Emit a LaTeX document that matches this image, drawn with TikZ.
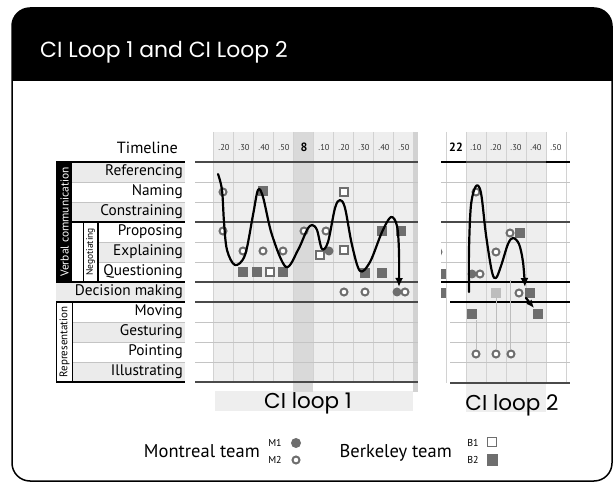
\documentclass[tikz,border=0pt]{standalone}
\usepackage{fontspec}
\setmainfont{PT Sans}
\newfontfamily\titlefont{Poppins}
\usetikzlibrary{arrows.meta}
\definecolor{cellgray}{HTML}{EEEEEE}
\definecolor{rowgray}{HTML}{EBEBEB}
\definecolor{colgray}{HTML}{D9D9D9}
\definecolor{gridline}{HTML}{D2D2D2}
\definecolor{thinline}{HTML}{C4C4C4}
\definecolor{thickline}{HTML}{4A4A4A}
\definecolor{markgray}{HTML}{6E6E6E}
\definecolor{lightmark}{HTML}{BDBDBD}
\tikzset{
  rowlabel/.style={anchor=east, inner sep=0pt, font=\fontsize{15.3}{15.3}\selectfont},
  collabel/.style={inner sep=0pt, font=\fontsize{8.5}{8.5}\selectfont, text=black!80},
  bigcol/.style={inner sep=0pt, font=\bfseries\fontsize{12}{12}\selectfont},
  mone/.style={circle, fill=markgray, minimum size=9pt, inner sep=0pt},
  mtwo/.style={circle, draw=markgray, line width=2pt, fill=white, minimum size=7pt, inner sep=0pt},
  bone/.style={rectangle, draw=markgray, line width=1.8pt, fill=white, minimum size=8pt, inner sep=0pt},
  btwo/.style={rectangle, fill=markgray, minimum size=10pt, inner sep=0pt},
  bthree/.style={rectangle, fill=lightmark, minimum size=10pt, inner sep=0pt},
  thickrule/.style={draw=thickline, line width=2.2pt},
  blackrule/.style={draw=black, line width=2.2pt},
  thinrule/.style={draw=thinline, line width=0.9pt},
  vrule/.style={draw=gridline, line width=1pt},
  dropline/.style={draw=lightmark, line width=0.8pt},
  trace/.style={line width=2.2pt, line join=round, line cap=round},
  looplabel/.style={anchor=base, inner sep=0pt, font=\titlefont\fontsize{21.5}{21.5}\selectfont},
  legendtext/.style={anchor=base east, inner sep=0pt, font=\fontsize{18.5}{18.5}\selectfont},
  legendsmall/.style={inner sep=0pt, font=\fontsize{10}{10}\selectfont},
}
\begin{document}
\begin{tikzpicture}[x=1pt, y=-1pt]
\useasboundingbox (0,0) rectangle (614,489);
\fill[white] (0,0) rectangle (614,489);
% frame and header
\begin{scope}
  \clip[rounded corners=18pt] (12,8) rectangle (612,481);
  \fill[black] (12,8) rectangle (612,81);
\end{scope}
\draw[line width=1.5pt, rounded corners=18pt] (12,8) rectangle (612,481);
\node[anchor=base west, inner sep=0pt, text=white, font=\titlefont\fontsize{21.9}{21.9}\selectfont] (title) at (40,58) {CI Loop 1 and CI Loop 2};

% ---------- label column ----------
\foreach \ya/\yb/\xa in {162/182/72, 202/222/72, 242/262/98, 282/302/56, 322/342/72, 362/382/72}
  \fill[rowgray] (\xa,\ya) rectangle (185,\yb);
\foreach \yy/\xa in {182/72, 202/72, 242/98, 262/98, 322/72, 342/72, 362/72}
  \draw[thinrule] (\xa,\yy) -- (185,\yy);
\fill[black] (56,162) rectangle (72,282);
\draw[line width=1pt] (56,302) rectangle (72,382);
\draw[line width=1pt] (83,222) rectangle (98,282);
\draw[line width=2pt] (98,222) -- (98,282);
\foreach \yy/\xa in {162/56, 222/72, 282/56, 302/56, 382/56}
  \draw[blackrule] (\xa,\yy) -- (185,\yy);
\node[rotate=90, inner sep=0pt, text=white, font=\fontsize{11.5}{11.5}\selectfont] (verbal) at (64.5,222) {Verbal communication};
\node[rotate=90, inner sep=0pt, font=\fontsize{11}{11}\selectfont] (repres) at (64.5,342) {Representation};
\node[rotate=90, inner sep=0pt, font=\fontsize{9.5}{9.5}\selectfont] (negot) at (90.5,252) {Negotiating};

\node[rowlabel, font=\fontsize{16.2}{16.2}\selectfont] (timeline) at (178,148) {Timeline};
\node[rowlabel] (lref) at (183,172) {Referencing};
\node[rowlabel] (lnam) at (183,192) {Naming};
\node[rowlabel] (lcon) at (183,212) {Constraining};
\node[rowlabel] (lpro) at (183,232) {Proposing};
\node[rowlabel] (lexp) at (183,252) {Explaining};
\node[rowlabel] (lque) at (183,272) {Questioning};
\node[rowlabel] (ldec) at (183,292) {Decision making};
\node[rowlabel] (lmov) at (183,312) {Moving};
\node[rowlabel] (lges) at (183,332) {Gesturing};
\node[rowlabel] (lpoi) at (183,352) {Pointing};
\node[rowlabel] (lill) at (183,372) {Illustrating};

% ---------- CI loop 1 grid ----------
\fill[cellgray] (213,132) rectangle (413,383);
\fill[cellgray] (215,391) rectangle (413,411);
\fill[colgray] (293,132) rectangle (313,392);
\fill[gridline] (413,132) rectangle (418,392);
\foreach \xx in {213,233,...,413}
  \draw[vrule] (\xx,132) -- (\xx,383);
\foreach \yy in {182,202,242,262,322,342,362}
  \draw[thinrule] (195,\yy) -- (418,\yy);
\foreach \yy in {162,222,282,302,382}
  \draw[thickrule] (195,\yy) -- (418,\yy);
\node[collabel] (a1) at (224,148) {.20};
\node[collabel] (a2) at (244,148) {.30};
\node[collabel] (a3) at (264,148) {.40};
\node[collabel] (a4) at (284,148) {.50};
\node[bigcol] (a5) at (304,147) {8};
\node[collabel] (a6) at (324,148) {.10};
\node[collabel] (a7) at (344,148) {.20};
\node[collabel] (a8) at (364,148) {.30};
\node[collabel] (a9) at (384,148) {.40};
\node[collabel] (a10) at (404,148) {.50};
\node[looplabel] (loopone) at (308,409) {CI loop 1};

% ---------- CI loop 2 grid ----------
\fill[cellgray] (466,132) rectangle (546,412);
\foreach \xx in {446,466,...,566}
  \draw[vrule] (\xx,132) -- (\xx,383);
\foreach \yy in {182,202,242,262}
  \draw[thinrule] (441,\yy) -- (570,\yy);
\foreach \yy in {322,342,362}
  \draw[thinrule] (450,\yy) -- (570,\yy);
\draw[thickrule] (466,162) -- (546,162);
\draw[blackrule] (441,162) -- (466,162);
\draw[blackrule] (546,162) -- (570,162);
\draw[thickrule] (441,222) -- (570,222);
\draw[blackrule] (441,282) -- (570,282);
\draw[blackrule] (450,302) -- (570,302);
\draw[thickrule] (450,383) -- (570,383);
\node[bigcol] (b1) at (456,147) {22};
\node[collabel] (b2) at (476,148) {.10};
\node[collabel] (b3) at (496,148) {.20};
\node[collabel] (b4) at (516,148) {.30};
\node[collabel] (b5) at (536,148) {.40};
\node[collabel] (b6) at (556,148) {.50};
\node[looplabel] (looptwo) at (512,410) {CI loop 2};

% ---------- markers loop 1 ----------
\node[mtwo] (p1) at (223,192) {};
\node[mtwo] (p2) at (223,231) {};
\node[mtwo] (p3) at (243,251) {};
\node[mtwo] (p4) at (263,251) {};
\node[mtwo] (p5) at (283,251) {};
\node[btwo] (p6) at (243,272) {};
\node[btwo] (p7) at (257,272) {};
\node[bone] (p8) at (270,272) {};
\node[btwo] (p9) at (283,272) {};
\node[btwo] (p10) at (263,191) {};
\node[mtwo] (p11) at (304,231) {};
\node[mtwo] (p12) at (326,231) {};
\node[bone] (p13) at (320,255) {};
\node[mone] (p14) at (329,251) {};
\node[bone] (p15) at (344,250) {};
\node[bone] (p16) at (344,192) {};
\node[btwo] (p17) at (382,231) {};
\node[btwo] (p18) at (401,231) {};
\node[btwo] (p19) at (365,273) {};
\node[btwo] (p20) at (382,273) {};
\node[mtwo] (p21) at (344,292) {};
\node[mtwo] (p22) at (365,292) {};
\node[mone] (p23) at (397,292) {};
\node[mtwo] (p24) at (405,292) {};

% ---------- markers loop 2 ----------
\draw[dropline] (476,320) -- (476,349);
\draw[dropline] (496,298) -- (496,349);
\draw[dropline] (510,280) -- (510,349);
\begin{scope}
  \clip (441,240) rectangle (470,300);
  \node[mone] (q0) at (438,252) {};
  \node[btwo] (q00) at (441,274) {};
  \node[btwo] (q000) at (441,293) {};
\end{scope}
\node[mtwo] (q1) at (476,192) {};
\node[mtwo] (q2) at (510,233) {};
\node[btwo] (q3) at (520,233) {};
\node[mtwo] (q4) at (496,252) {};
\node[mone] (q5) at (472,274) {};
\node[mtwo] (q6) at (480,274) {};
\node[bthree] (q7) at (496,293) {};
\node[mtwo] (q8) at (519,293) {};
\node[btwo] (q9) at (530,293) {};
\node[btwo] (q10) at (472,314) {};
\node[btwo] (q11) at (538,314) {};
\node[mtwo] (q12) at (476,354) {};
\node[mtwo] (q13) at (496,354) {};
\node[mtwo] (q14) at (511,354) {};

% ---------- traces ----------
\draw[trace, -{Latex[length=9pt,width=8pt]}] plot[smooth, tension=0.55] coordinates {
  (218,174) (222,190) (224,222) (227,250) (235,265) (245,255) (253,215) (258,190) (263,197)
  (272,235) (286,267) (298,250) (307,230) (312,225) (317,230) (322,249) (328,242) (335,208)
  (340,200) (345,208) (352,245) (360,271) (370,262) (382,232) (391,217) (397,226) (399,252) (399,287)};
\draw[trace, -{Latex[length=9pt,width=8pt]}] plot[smooth, tension=0.55] coordinates {
  (469,292) (469,250) (471,205) (476,186) (481,193) (486,235) (492,272) (496,278) (501,266)
  (508,244) (513,238) (519,244) (523,262) (525,287)};
\coordinate (c2s) at (526,298);
\coordinate (c2e) at (534,308);
\draw[trace, -{Latex[length=8pt,width=7pt]}] (c2s) -- (c2e);

% ---------- legend ----------
\node[legendtext] (mteam) at (260,457) {Montreal team};
\node[legendsmall] (mone) at (275,443) {M1};
\node[legendsmall] (mtwo) at (275,460) {M2};
\node[mone, minimum size=10pt] (lm1) at (296,443) {};
\node[mtwo] (lm2) at (296,460) {};
\node[legendtext] (bteam) at (452,457) {Berkeley team};
\node[legendsmall] (bone) at (473,443) {B1};
\node[legendsmall] (btwo) at (473,460) {B2};
\node[bone, minimum size=9pt] (lb1) at (492,442) {};
\node[btwo, minimum size=11pt] (lb2) at (492,460) {};
\end{tikzpicture}
\end{document}
